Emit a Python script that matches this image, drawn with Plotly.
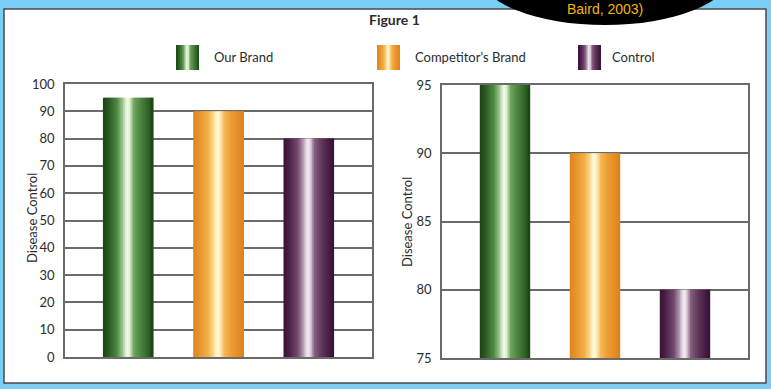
import plotly.graph_objects as go

# ---- data -------------------------------------------------------------
categories = ["Our Brand", "Competitor's Brand", "Control"]
disease_control = [95, 90, 80]
left_ticks = [0, 10, 20, 30, 40, 50, 60, 70, 80, 90, 100]
right_ticks = [75, 80, 85, 90, 95]

# ---- styling ----------------------------------------------------------
W, H = 771, 389
FONT = "Lato"
TXT = "#2b2b2b"
GRID = "#6a6a6a"

# cylinder-like shading: (position across bar, colour)
shades = {
    "Our Brand": [(0.00, "#1b4215"), (0.12, "#2b5e22"), (0.28, "#4f8b43"),
                  (0.39, "#9cc78d"), (0.47, "#f4fbec"), (0.53, "#e2f1d6"),
                  (0.61, "#6ea55f"), (0.74, "#4c8640"), (0.87, "#336a2a"),
                  (1.00, "#1b4215")],
    "Competitor's Brand": [(0.00, "#df841c"), (0.12, "#e8942a"), (0.28, "#f1ae45"),
                           (0.39, "#f9d282"), (0.47, "#fffbe3"), (0.53, "#fdefc0"),
                           (0.61, "#f5bb58"), (0.74, "#ee9f34"), (0.87, "#e78f26"),
                           (1.00, "#de821b")],
    "Control": [(0.00, "#361235"), (0.12, "#4e2249"), (0.28, "#74496f"),
                (0.39, "#b39bb0"), (0.47, "#f7eef6"), (0.53, "#e4d4e2"),
                (0.61, "#86627f"), (0.74, "#643a5f"), (0.87, "#4d2149"),
                (1.00, "#351134")],
}


def hex2rgb(h):
    h = h.lstrip("#")
    return tuple(int(h[i:i + 2], 16) for i in (0, 2, 4))


def shade_at(stops, t):
    for (p0, c0), (p1, c1) in zip(stops, stops[1:]):
        if p0 <= t <= p1:
            f = (t - p0) / (p1 - p0) if p1 > p0 else 0
            a, b = hex2rgb(c0), hex2rgb(c1)
            r = [round(a[i] + (b[i] - a[i]) * f) for i in range(3)]
            return "rgb(%d,%d,%d)" % tuple(r)
    return stops[-1][1]


def px(x):
    return x / W


def py(y):
    return 1 - y / H


fig = go.Figure()

# ---- bars, each drawn as thin vertical strips to give the shading ----
BAR_W = 0.56
N = 30
step = BAR_W / N
for ax in ("", "2"):
    for k in range(N):
        t = (k + 0.5) / N
        fig.add_trace(go.Bar(
            x=categories,
            y=disease_control,
            offset=-BAR_W / 2 + k * step,
            width=step * (1.8 if k < N - 1 else 1.0),
            marker=dict(color=[shade_at(shades[c], t) for c in categories],
                        line=dict(width=0)),
            xaxis="x" + ax, yaxis="y" + ax,
            showlegend=False, hoverinfo="skip",
        ))

axis_common = dict(showline=True, mirror=True, linecolor=GRID, linewidth=1.5,
                   automargin=False)
tickfont = dict(size=13, color=TXT, family=FONT)
fig.update_layout(
    width=W, height=H,
    margin=dict(l=0, r=0, t=0, b=0),
    paper_bgcolor="#79cef5",
    plot_bgcolor="white",
    barmode="overlay",
    font=dict(family=FONT, color=TXT),
    xaxis=dict(domain=[px(65), px(372)], range=[-0.7, 2.7], showticklabels=False,
               showgrid=False, **axis_common),
    yaxis=dict(domain=[py(357), py(84)], range=[0, 100], tickvals=left_ticks,
               showgrid=True, gridcolor=GRID, gridwidth=1.5,
               ticklabelstandoff=6, tickfont=tickfont, **axis_common),
    xaxis2=dict(domain=[px(442), px(748)], range=[-0.7, 2.7], showticklabels=False,
                showgrid=False, anchor="y2", **axis_common),
    yaxis2=dict(domain=[py(358), py(85)], range=[75, 95], tickvals=right_ticks,
                anchor="x2", showgrid=True, gridcolor=GRID, gridwidth=1.5,
                ticklabelstandoff=6, tickfont=tickfont, **axis_common),
)

shapes = [
    # white card behind the figure
    dict(type="rect", xref="paper", yref="paper", layer="below",
         x0=px(4), x1=px(766), y0=py(383), y1=py(9),
         fillcolor="white", line=dict(color="#4a4a4a", width=1.5)),
    # black badge at the top right
    dict(type="circle", xref="paper", yref="paper", layer="above",
         x0=px(480), x1=px(730), y0=py(25), y1=py(-75),
         fillcolor="black", line=dict(width=0)),
]

# legend swatches with the same shading
swatch_x = {"Our Brand": 176, "Competitor's Brand": 377, "Control": 578}
label_x = {"Our Brand": 212, "Competitor's Brand": 413, "Control": 610}
SW, SN = 23, 12
sstep = SW / SN
for c in categories:
    for k in range(SN):
        t = (k + 0.5) / SN
        x0 = swatch_x[c] + k * sstep
        x1 = x0 + sstep * (1.6 if k < SN - 1 else 1.0)
        shapes.append(dict(type="rect", xref="paper", yref="paper", layer="above",
                           x0=px(x0), x1=px(x1), y0=py(70), y1=py(45),
                           fillcolor=shade_at(shades[c], t), line=dict(width=0)))

annotations = [
    dict(text="<b>Figure 1</b>", x=px(395), y=py(19), xref="paper", yref="paper",
         xanchor="center", yanchor="middle", showarrow=False,
         font=dict(size=14, color=TXT, family=FONT)),
    dict(text="Baird, 2003)", x=px(605), y=py(9), xref="paper", yref="paper",
         xanchor="center", yanchor="middle", showarrow=False,
         font=dict(size=14, color="#f2b705", family="Liberation Sans")),
    # axis titles
    dict(text="Disease Control", x=px(32), y=py(218), xref="paper", yref="paper",
         xanchor="center", yanchor="middle", textangle=-90, showarrow=False,
         font=dict(size=13, color=TXT, family=FONT)),
    dict(text="Disease Control", x=px(407), y=py(222), xref="paper", yref="paper",
         xanchor="center", yanchor="middle", textangle=-90, showarrow=False,
         font=dict(size=13, color=TXT, family=FONT)),
]
for c in categories:
    annotations.append(dict(text=c, x=px(label_x[c]), y=py(57), xref="paper",
                            yref="paper", xanchor="left", yanchor="middle",
                            showarrow=False,
                            font=dict(size=13, color=TXT, family=FONT)))

fig.update_layout(shapes=shapes, annotations=annotations)

fig.write_html("out.html")
